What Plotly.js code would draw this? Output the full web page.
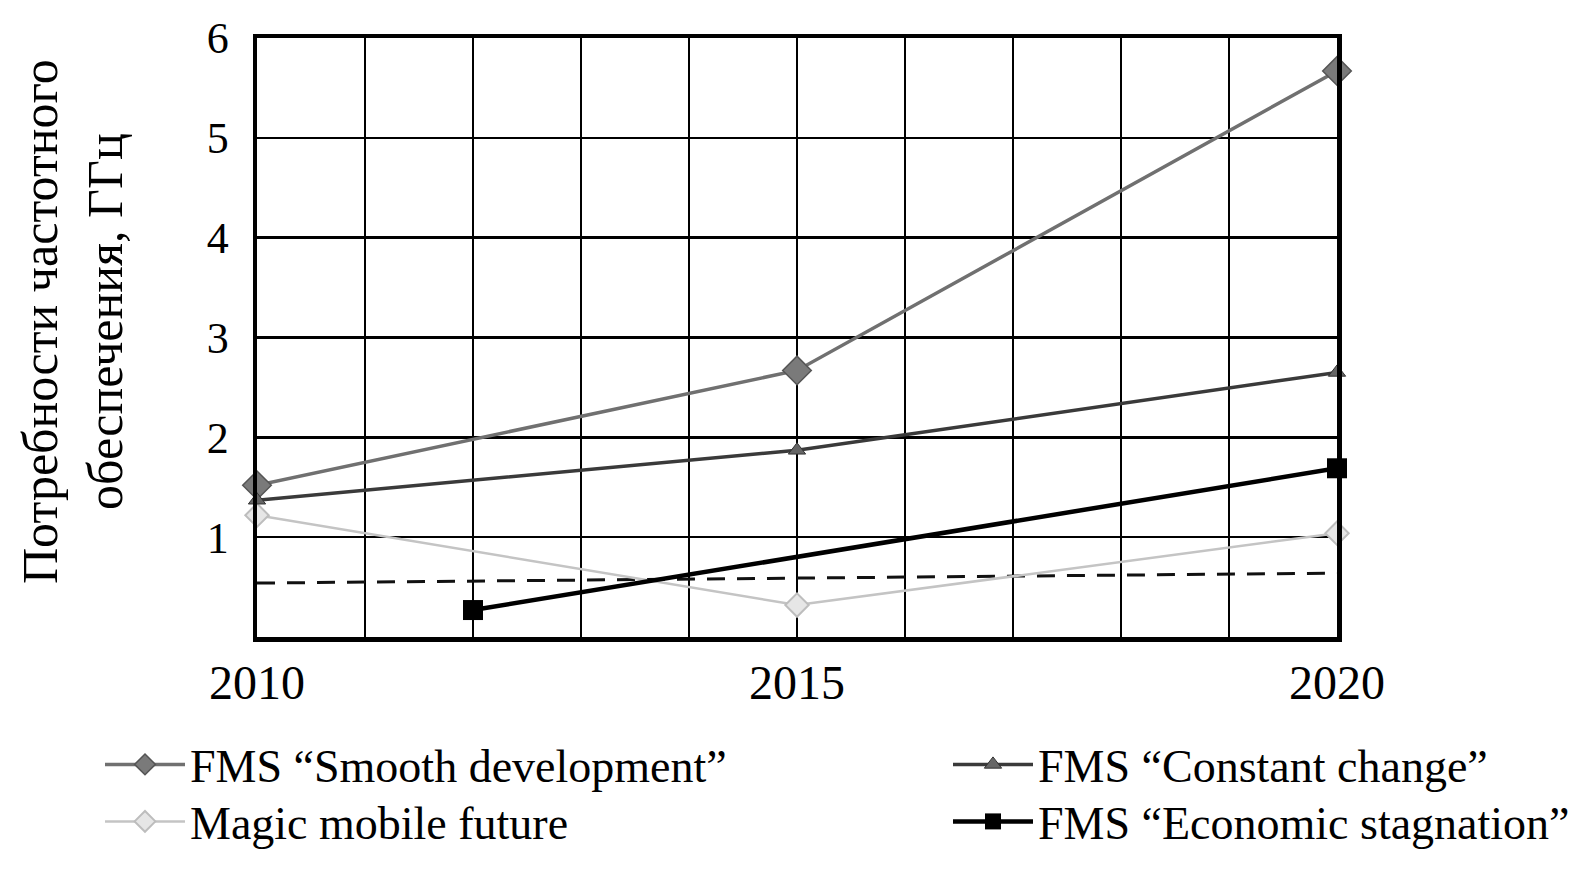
<!DOCTYPE html>
<html>
<head>
<meta charset="utf-8">
<script src="https://cdn.plot.ly/plotly-3.0.1.min.js"></script>
<style>html,body{margin:0;padding:0;background:#fff;}#chart{width:1575px;height:877px;}</style>
</head>
<body>
<div id="chart"></div>
<script>
// Data
const years = [2010, 2015, 2020];
const smoothDev = [1.52, 2.67, 5.67];
const constantChange = [1.37, 1.87, 2.65];
const magicMobile = [1.22, 0.32, 1.04];
const stagYears = [2012, 2020];
const stagnation = [0.27, 1.69];
const refYears = [2010, 2020];
const refLevel = [0.54, 0.64];
const xTickVals = [2010, 2015, 2020];
const yTickVals = [1, 2, 3, 4, 5, 6];
const names = ['FMS \u201cSmooth development\u201d', 'FMS \u201cConstant change\u201d',
               'Magic mobile future', 'FMS \u201cEconomic stagnation\u201d'];
const yTitle = 'Потребности частотного<br>обеспечения, ГГц';

const FONT = 'Liberation Serif, Times New Roman, serif';

const traces = [
  {x: refYears, y: refLevel, mode: 'lines', showlegend: false, hoverinfo: 'skip',
   line: {color: '#111', width: 3, dash: '18px,12px'}, cliponaxis: false},
  {x: years, y: magicMobile, name: names[2], mode: 'lines+markers', legend: 'legend3',
   line: {color: '#c4c4c4', width: 2.5},
   marker: {symbol: 'diamond', size: 18, color: '#e6e6e6', line: {color: '#bdbdbd', width: 2}}, cliponaxis: false},
  {x: years, y: smoothDev, name: names[0], mode: 'lines+markers', legend: 'legend',
   line: {color: '#707070', width: 3.5},
   marker: {symbol: 'diamond', size: 22, color: '#7a7a7a', line: {color: '#555', width: 1.5}}, cliponaxis: false},
  {x: years, y: constantChange, name: names[1], mode: 'lines+markers', legend: 'legend2',
   line: {color: '#3a3a3a', width: 3.5},
   marker: {symbol: 'triangle-up', size: 15, color: '#666', line: {color: '#333', width: 1}}, cliponaxis: false},
  {x: stagYears, y: stagnation, name: names[3], mode: 'lines+markers', legend: 'legend4',
   line: {color: '#000', width: 4.5},
   marker: {symbol: 'square', size: 20, color: '#000'}, cliponaxis: false}
];

function legendAt(xPx, topPx) {
  return {
    xref: 'container', yref: 'container', x: xPx / 1575, y: 1 - topPx / 877,
    xanchor: 'left', yanchor: 'top',
    font: {family: FONT, size: 46, color: '#000'}, bgcolor: 'rgba(0,0,0,0)',
    itemwidth: 80
  };
}

const layout = {
  width: 1575, height: 877,
  paper_bgcolor: '#fff', plot_bgcolor: '#fff',
  margin: {l: 257, r: 238, t: 38, b: 240, autoexpand: false},
  font: {family: FONT, color: '#000'},
  xaxis: {
    range: [2010, 2020], tickvals: xTickVals, ticktext: xTickVals.map(String),
    showgrid: true, gridcolor: '#000', gridwidth: 2.5,
    minor: {dtick: 1, showgrid: true, gridcolor: '#000', gridwidth: 2.5},
    showline: true, linecolor: '#000', linewidth: 4.5, mirror: true,
    ticks: '',
    tickfont: {family: FONT, size: 48, color: '#000'},
    zeroline: false, fixedrange: true, automargin: false
  },
  yaxis: {
    range: [0, 6], tickvals: yTickVals, ticktext: yTickVals.map(String),
    showgrid: true, gridcolor: '#000', gridwidth: 2.5,
    showline: true, linecolor: '#000', linewidth: 4.5, mirror: true,
    ticks: 'outside', ticklen: 15, tickcolor: 'rgba(0,0,0,0)',
    tickfont: {family: FONT, size: 44, color: '#000'},
    zeroline: false, fixedrange: true, automargin: false
  },
  annotations: [{
    text: yTitle, textangle: -90, xref: 'paper', yref: 'paper',
    x: (72 - 257) / 1080, y: (637 - 322) / 599, xanchor: 'center', yanchor: 'middle',
    showarrow: false, font: {family: FONT, size: 50, color: '#000'}
  }],
  legend: legendAt(100, 728),
  legend2: legendAt(948, 728),
  legend3: legendAt(100, 785),
  legend4: legendAt(948, 785),
  showlegend: true
};

Plotly.newPlot('chart', traces, layout, {displayModeBar: false, staticPlot: true});
</script>
</body>
</html>
